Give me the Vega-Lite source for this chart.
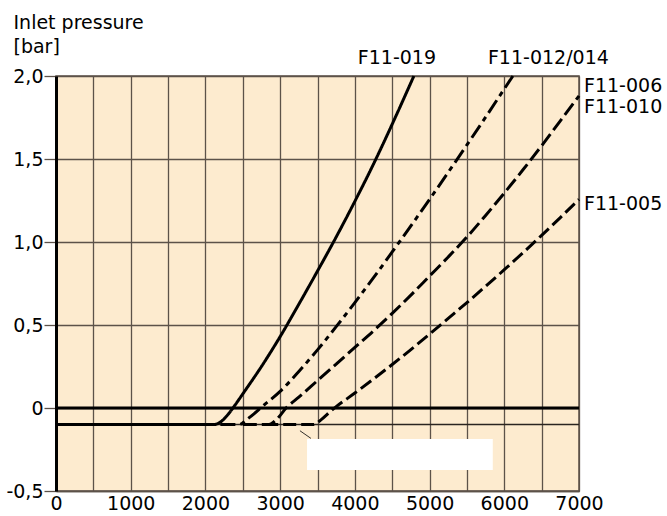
{
  "$schema": "https://vega.github.io/schema/vega-lite/v6.json",
  "width": 523,
  "height": 415,
  "autosize": {"type": "none"},
  "padding": {"left": 56, "top": 76, "right": 88, "bottom": 25},
  "background": "white",
  "config": {
    "view": {"fill": "#FDEBCF", "stroke": "#5c5249", "strokeWidth": 1.5},
    "axis": {"labelFont": "DejaVu Sans", "labelFontSize": 19, "labelColor": "black", "titleFont": "DejaVu Sans", "titleFontSize": 19, "titleFontWeight": "normal", "titleColor": "black"}
  },
  "datasets": {
    "curves": [
      {"series": "F11-019", "x": 0, "y": -0.1},
      {"series": "F11-019", "x": 2100, "y": -0.1},
      {"series": "F11-019", "x": 2200, "y": -0.085},
      {"series": "F11-019", "x": 2300, "y": -0.04},
      {"series": "F11-019", "x": 2400, "y": 0.02},
      {"series": "F11-019", "x": 2500, "y": 0.085},
      {"series": "F11-019", "x": 2750, "y": 0.25},
      {"series": "F11-019", "x": 3000, "y": 0.43},
      {"series": "F11-019", "x": 3250, "y": 0.625},
      {"series": "F11-019", "x": 3500, "y": 0.825},
      {"series": "F11-019", "x": 3750, "y": 1.03},
      {"series": "F11-019", "x": 4000, "y": 1.245},
      {"series": "F11-019", "x": 4250, "y": 1.47},
      {"series": "F11-019", "x": 4500, "y": 1.71},
      {"series": "F11-019", "x": 4790, "y": 2.0},
      {"series": "F11-012/014", "x": 2200, "y": -0.1},
      {"series": "F11-012/014", "x": 2450, "y": -0.1},
      {"series": "F11-012/014", "x": 2550, "y": -0.07},
      {"series": "F11-012/014", "x": 2650, "y": -0.035},
      {"series": "F11-012/014", "x": 2750, "y": 0.005},
      {"series": "F11-012/014", "x": 3000, "y": 0.1},
      {"series": "F11-012/014", "x": 3250, "y": 0.22},
      {"series": "F11-012/014", "x": 3500, "y": 0.35},
      {"series": "F11-012/014", "x": 3750, "y": 0.49},
      {"series": "F11-012/014", "x": 4000, "y": 0.635},
      {"series": "F11-012/014", "x": 4250, "y": 0.785},
      {"series": "F11-012/014", "x": 4500, "y": 0.94},
      {"series": "F11-012/014", "x": 4750, "y": 1.097},
      {"series": "F11-012/014", "x": 5000, "y": 1.257},
      {"series": "F11-012/014", "x": 5250, "y": 1.42},
      {"series": "F11-012/014", "x": 5500, "y": 1.585},
      {"series": "F11-012/014", "x": 5750, "y": 1.752},
      {"series": "F11-012/014", "x": 6000, "y": 1.922},
      {"series": "F11-012/014", "x": 6115, "y": 2.0},
      {"series": "F11-006/010", "x": 2500, "y": -0.1},
      {"series": "F11-006/010", "x": 2850, "y": -0.1},
      {"series": "F11-006/010", "x": 2950, "y": -0.07},
      {"series": "F11-006/010", "x": 3080, "y": 0.0},
      {"series": "F11-006/010", "x": 3250, "y": 0.065},
      {"series": "F11-006/010", "x": 3500, "y": 0.165},
      {"series": "F11-006/010", "x": 3750, "y": 0.265},
      {"series": "F11-006/010", "x": 4000, "y": 0.365},
      {"series": "F11-006/010", "x": 4250, "y": 0.465},
      {"series": "F11-006/010", "x": 4500, "y": 0.57},
      {"series": "F11-006/010", "x": 4750, "y": 0.68},
      {"series": "F11-006/010", "x": 5000, "y": 0.795},
      {"series": "F11-006/010", "x": 5250, "y": 0.91},
      {"series": "F11-006/010", "x": 5500, "y": 1.03},
      {"series": "F11-006/010", "x": 5750, "y": 1.16},
      {"series": "F11-006/010", "x": 6000, "y": 1.295},
      {"series": "F11-006/010", "x": 6250, "y": 1.435},
      {"series": "F11-006/010", "x": 6500, "y": 1.58},
      {"series": "F11-006/010", "x": 6750, "y": 1.73},
      {"series": "F11-006/010", "x": 7000, "y": 1.88},
      {"series": "F11-005", "x": 2800, "y": -0.1},
      {"series": "F11-005", "x": 3450, "y": -0.1},
      {"series": "F11-005", "x": 3550, "y": -0.07},
      {"series": "F11-005", "x": 3700, "y": -0.01},
      {"series": "F11-005", "x": 3750, "y": 0.008},
      {"series": "F11-005", "x": 4000, "y": 0.09},
      {"series": "F11-005", "x": 4250, "y": 0.175},
      {"series": "F11-005", "x": 4500, "y": 0.262},
      {"series": "F11-005", "x": 4750, "y": 0.352},
      {"series": "F11-005", "x": 5000, "y": 0.445},
      {"series": "F11-005", "x": 5250, "y": 0.54},
      {"series": "F11-005", "x": 5500, "y": 0.635},
      {"series": "F11-005", "x": 5750, "y": 0.733},
      {"series": "F11-005", "x": 6000, "y": 0.833},
      {"series": "F11-005", "x": 6250, "y": 0.935},
      {"series": "F11-005", "x": 6500, "y": 1.04},
      {"series": "F11-005", "x": 6750, "y": 1.147},
      {"series": "F11-005", "x": 7000, "y": 1.257}
    ],
    "labels": [
      {"text": "F11-019", "x": 4563, "y": 2.108, "align": "center"},
      {"text": "F11-012/014", "x": 6590, "y": 2.108, "align": "center"},
      {"text": "F11-006", "x": 7000, "y": 1.94, "align": "left"},
      {"text": "F11-010", "x": 7000, "y": 1.816, "align": "left"},
      {"text": "F11-005", "x": 7000, "y": 1.23, "align": "left"}
    ]
  },
  "encoding": {
    "x": {"field": "x", "type": "quantitative", "scale": {"domain": [0, 7000], "nice": false, "zero": false},
      "axis": {"values": [0, 500, 1000, 1500, 2000, 2500, 3000, 3500, 4000, 4500, 5000, 5500, 6000, 6500, 7000],
        "labelExpr": "datum.value % 1000 == 0 ? toString(datum.value) : ''",
        "title": null, "grid": true, "gridColor": "#5c5249", "gridWidth": 1.3, "gridOpacity": 1,
        "ticks": false, "labelPadding": 3, "domainColor": "#5c5249", "domainWidth": 1.5, "labelFlush": false, "labelOverlap": false}},
    "y": {"field": "y", "type": "quantitative", "scale": {"domain": [-0.5, 2.0], "nice": false, "zero": false},
      "axis": {"values": [-0.5, 0, 0.5, 1, 1.5, 2],
        "labelExpr": "datum.value == 0 ? '0' : (datum.value < 0 ? '-' : '') + replace(format(abs(datum.value), '.1f'), '.', ',')",
        "title": ["Inlet pressure", "[bar]"], "titleAngle": 0, "titleAlign": "left", "titleBaseline": "alphabetic",
        "titleX": -43, "titleY": -48, "titleLineHeight": 24,
        "grid": true, "gridColor": "#5c5249", "gridWidth": 1.3, "gridOpacity": 1,
        "tickSize": 12, "tickColor": "#5c5249", "tickWidth": 1.3, "labelPadding": 1,
        "domainColor": "black", "domainWidth": 3, "labelFlush": false, "labelOverlap": false}}
  },
  "layer": [
    {
      "data": {"values": [{"x": 3360, "x2": 5846, "y": -0.187, "y2": -0.373}]},
      "mark": {"type": "rect", "color": "white"},
      "encoding": {"x2": {"field": "x2"}, "y2": {"field": "y2"}}
    },
    {
      "data": {"values": [{"x": 0, "x2": 7000, "y": -0.1}]},
      "mark": {"type": "rule", "color": "#2a2420", "strokeWidth": 1.5},
      "encoding": {"x2": {"field": "x2"}}
    },
    {
      "data": {"values": [{"x": 0, "x2": 7000, "y": 0}]},
      "mark": {"type": "rule", "color": "black", "strokeWidth": 3},
      "encoding": {"x2": {"field": "x2"}}
    },
    {
      "data": {"values": [{"x": 3265, "y": -0.137, "x2": 3412, "y2": -0.183}]},
      "mark": {"type": "rule", "color": "black", "strokeWidth": 0.8},
      "encoding": {"x2": {"field": "x2"}, "y2": {"field": "y2"}}
    },
    {
      "data": {"name": "curves"},
      "mark": {"type": "line", "color": "black", "strokeWidth": 3, "strokeCap": "butt", "interpolate": "monotone"},
      "encoding": {
        "detail": {"field": "series"},
        "strokeDash": {"field": "series", "type": "nominal", "legend": null,
          "scale": {"domain": ["F11-019", "F11-012/014", "F11-006/010", "F11-005"],
            "range": [[1, 0], [15, 5, 5, 5], [14, 5], [13, 5]]}}
      }
    },
    {
      "data": {"name": "labels"},
      "transform": [{"filter": "datum.align == 'center'"}],
      "mark": {"type": "text", "font": "DejaVu Sans", "fontSize": 19, "color": "black", "align": "center", "baseline": "middle"},
      "encoding": {"text": {"field": "text"}}
    },
    {
      "data": {"name": "labels"},
      "transform": [{"filter": "datum.align == 'left'"}],
      "mark": {"type": "text", "font": "DejaVu Sans", "fontSize": 19, "color": "black", "align": "left", "baseline": "middle", "dx": 5},
      "encoding": {"text": {"field": "text"}}
    }
  ]
}
